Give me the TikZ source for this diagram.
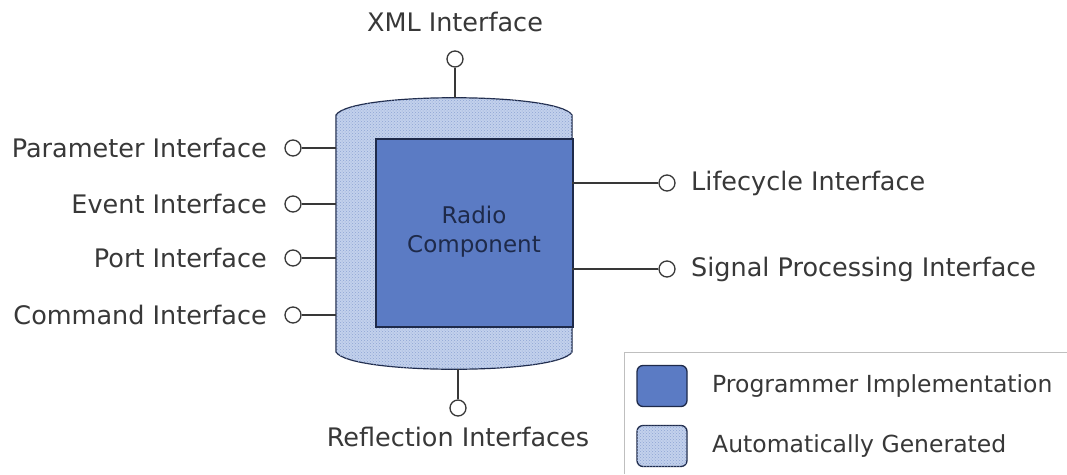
\documentclass[tikz,border=0pt]{standalone}
\usepackage{fontspec}
\setmainfont{DejaVu Sans}
\usetikzlibrary{patterns}
\definecolor{implblue}{HTML}{5B7BC4}
\definecolor{genblue}{HTML}{C3D1EC}
\definecolor{genchk}{HTML}{8EA4D4}
\definecolor{edge}{HTML}{1E2A4A}
\definecolor{ink}{HTML}{383838}
\tikzset{
  lbl/.style={font=\fontsize{25.5}{28}\selectfont, text=ink, inner sep=0pt},
  leglbl/.style={font=\fontsize{23.5}{26}\selectfont, text=ink, inner sep=0pt},
  plug/.style={circle, draw=ink, line width=1.3pt, fill=white, minimum size=16pt, inner sep=0pt},
  wire/.style={draw=ink, line width=1.4pt},
  genfill/.style={fill=genblue, postaction={pattern=crosshatch dots, pattern color=genchk}},
  swatch/.style={draw=edge, line width=1.3pt, rounded corners=6pt, minimum width=50pt, minimum height=41pt, inner sep=0pt}
}
\begin{document}
\begin{tikzpicture}[x=1pt, y=-1pt]
\useasboundingbox (0,0) rectangle (1067,474);
\fill[white] (0,0) rectangle (1067,474);

% generated shell of the component (cylinder)
\coordinate (shTL) at (336,115);
\coordinate (shTR) at (572,115);
\coordinate (shBL) at (336,352);
\coordinate (shBR) at (572,352);
\coordinate (shTop) at (455,98);
\coordinate (shBot) at (458,369);
\path[genfill, draw=edge, line width=1.2pt]
  (shBL) -- (shTL) .. controls (350,92) and (558,92) .. (shTR)
  -- (shBR) .. controls (558,375) and (350,375) .. cycle;

% programmer-implemented core
\node[draw=edge, line width=1.6pt, fill=implblue, minimum width=197pt, minimum height=188pt,
      anchor=north west, inner sep=0pt] (core) at (375,138) {};
\node[font=\fontsize{23}{29}\selectfont, text=edge, align=center] (corelbl) at (474,232) {Radio\\Component};

% top and bottom interfaces
\node[plug] (xmlp) at (455,59) {};
\node[lbl] (xml) at (455,22) {XML Interface};
\draw[wire] (shTop) -- (xmlp);
\node[plug] (refp) at (458,408) {};
\node[lbl] (ref) at (458,437) {Reflection Interfaces};
\draw[wire] (shBot) -- (refp);

% left interfaces
\foreach \nm/\yy/\txt in {par/148/Parameter Interface, evt/204/Event Interface,
                           prt/258/Port Interface, cmd/315/Command Interface}{
  \node[plug] (\nm p) at (293,\yy) {};
  \node[lbl, anchor=east] (\nm) at (267,\yy) {\txt};
  \coordinate (\nm s) at (336,\yy);
  \draw[wire] (\nm p) -- (\nm s);
}

% right interfaces
\foreach \nm/\yy/\txt in {lif/183/Lifecycle Interface, sig/269/Signal Processing Interface}{
  \node[plug] (\nm p) at (667,\yy) {};
  \node[lbl, anchor=west] (\nm) at (691,\yy) {\txt};
  \coordinate (\nm s) at (572,\yy);
  \draw[wire] (\nm s) -- (\nm p);
}

% legend
\draw[draw=black!25, line width=1pt] (1067,352) -- (624,352) -- (624,474);
\node[swatch, fill=implblue] (legimpl) at (662,386) {};
\node[leglbl, anchor=west] (legimpltxt) at (712,386) {Programmer Implementation};
\node[swatch, genfill] (leggen) at (662,446) {};
\node[leglbl, anchor=west] (leggentxt) at (712,446) {Automatically Generated};
\end{tikzpicture}
\end{document}
